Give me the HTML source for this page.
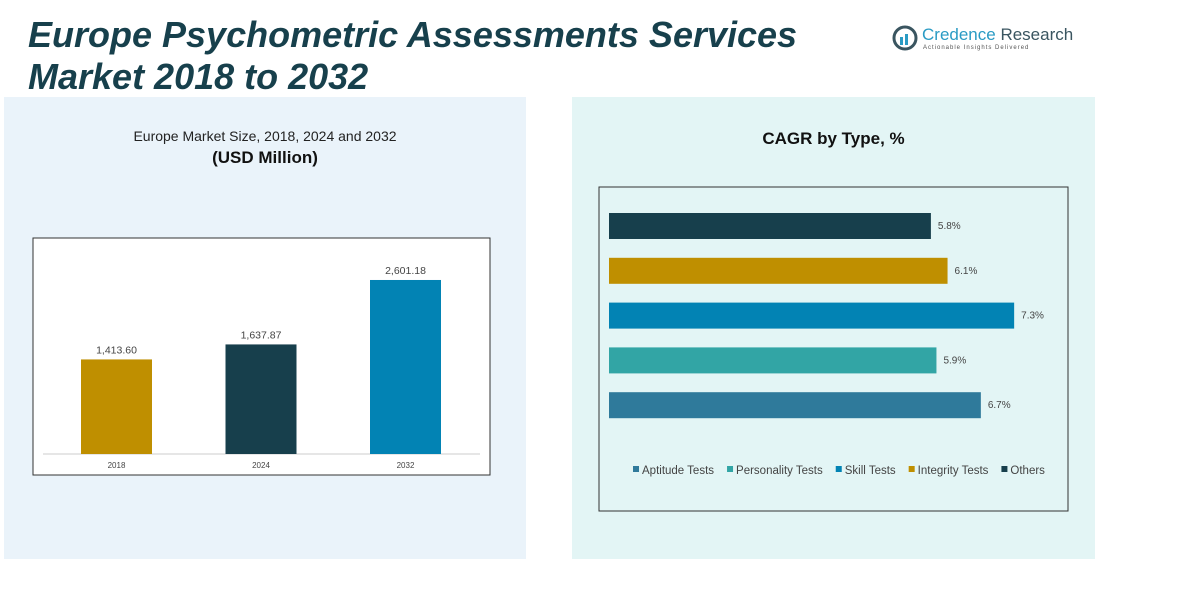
<!DOCTYPE html>
<html><head><meta charset="utf-8"><style>
body{margin:0;width:1188px;height:591px;background:#fff;font-family:"Liberation Sans",sans-serif;overflow:hidden;position:relative}
.abs{position:absolute}
</style></head><body>
<div class="abs" style="left:4px;top:97px;width:522px;height:462px;background:#eaf3fa"></div>
<div class="abs" style="left:572px;top:97px;width:523px;height:462px;background:#e3f5f5"></div>
<div class="abs" style="left:28px;top:14px;font-size:36px;font-weight:bold;font-style:italic;color:#17404c;line-height:42px">Europe Psychometric Assessments Services<br>Market 2018 to 2032</div>
<div class="abs" style="left:892px;top:25px;">
<svg width="26" height="26" style="position:absolute;left:0;top:0"><circle cx="13" cy="13" r="11" fill="none" stroke="#3a5560" stroke-width="3"/><rect x="8" y="12" width="3" height="8" fill="#2a9bc4"/><rect x="13" y="9" width="3" height="11" fill="#2a9bc4"/></svg>
<div style="position:absolute;left:30px;top:0;font-size:17px;color:#2a9bc4;white-space:nowrap">Credence <span style="color:#3a5560">Research</span></div>
<div style="position:absolute;left:31px;top:20px;font-size:6px;color:#555;letter-spacing:1px;white-space:nowrap">Actionable Insights Delivered</div>
</div>
<div class="abs" style="left:4px;width:522px;top:128px;text-align:center;font-size:14px;color:#222">Europe Market Size, 2018, 2024 and 2032</div>
<div class="abs" style="left:4px;width:522px;top:148px;text-align:center;font-size:17px;font-weight:bold;color:#111">(USD Million)</div>
<div class="abs" style="left:572px;width:523px;top:129px;text-align:center;font-size:17px;font-weight:bold;color:#111">CAGR by Type, %</div>
<svg class="abs" style="left:0;top:0" width="1188" height="591">
<rect x="33" y="238" width="457" height="237" fill="#fff" stroke="#333"/>
<line x1="43" y1="454" x2="480" y2="454" stroke="#ccc"/>
<rect x="599" y="187" width="469" height="324" fill="none" stroke="#333"/>
<g id="left"></g><g id="right"></g><g id="legend"></g>
</svg>
<script>
const years=["2018","2024","2032"];
const sizes=[1413.60,1637.87,2601.18];
const sizeLabels=["1,413.60","1,637.87","2,601.18"];
const yearColors=["#bf8f00","#173f4c","#0283b4"];
const types=["Others","Integrity Tests","Skill Tests","Personality Tests","Aptitude Tests"];
const cagr=[5.8,6.1,7.3,5.9,6.7];
const typeColors=["#173f4c","#bf8f00","#0283b4","#32a5a5","#2f7a9b"];
const legendNames=["Aptitude Tests","Personality Tests","Skill Tests","Integrity Tests","Others"];
const legendColors=["#2f7a9b","#32a5a5","#0283b4","#bf8f00","#173f4c"];
const NS="http://www.w3.org/2000/svg";
function mk(t,a,p){const e=document.createElementNS(NS,t);for(const k in a)e.setAttribute(k,a[k]);p.appendChild(e);return e;}
const yS=v=>454-v*0.0669;
const xC=i=>116.5+i*144.5;
const L=document.getElementById('left');
years.forEach((y,i)=>{
 const r=mk('rect',{x:xC(i)-35.5,y:yS(sizes[i]),width:71,height:454-yS(sizes[i]),fill:yearColors[i]},L);
 
 
 const t=mk('text',{x:xC(i),y:yS(sizes[i])-6,'text-anchor':'middle','font-size':10.5,fill:'#444','font-family':'Liberation Sans'},L);t.textContent=sizeLabels[i];
 
 
 const x=mk('text',{x:xC(i),y:468,'text-anchor':'middle','font-size':8,fill:'#444','font-family':'Liberation Sans'},L);x.textContent=y;
 
 
});
const xS=v=>609+v*55.5;
const R=document.getElementById('right');
types.forEach((n,i)=>{
 const y0=213+i*44.8;
 const r=mk('rect',{x:609,y:y0,width:xS(cagr[i])-609,height:26,fill:typeColors[i]},R);
 
 
 const t=mk('text',{x:xS(cagr[i])+7,y:y0+16,'font-size':10,fill:'#444','font-family':'Liberation Sans'},R);t.textContent=cagr[i].toFixed(1)+'%';
 
 
});
const G=document.getElementById('legend');
let lx=633;
legendNames.forEach((n,i)=>{
 mk('rect',{x:lx,y:466,width:6,height:6,fill:legendColors[i]},G);
 const t=mk('text',{x:lx+9,y:474,'font-size':11.5,fill:'#444','font-family':'Liberation Sans'},G);t.textContent=n;
 
 
 lx+=t.getComputedTextLength()+22;
});
</script>
</body></html>
